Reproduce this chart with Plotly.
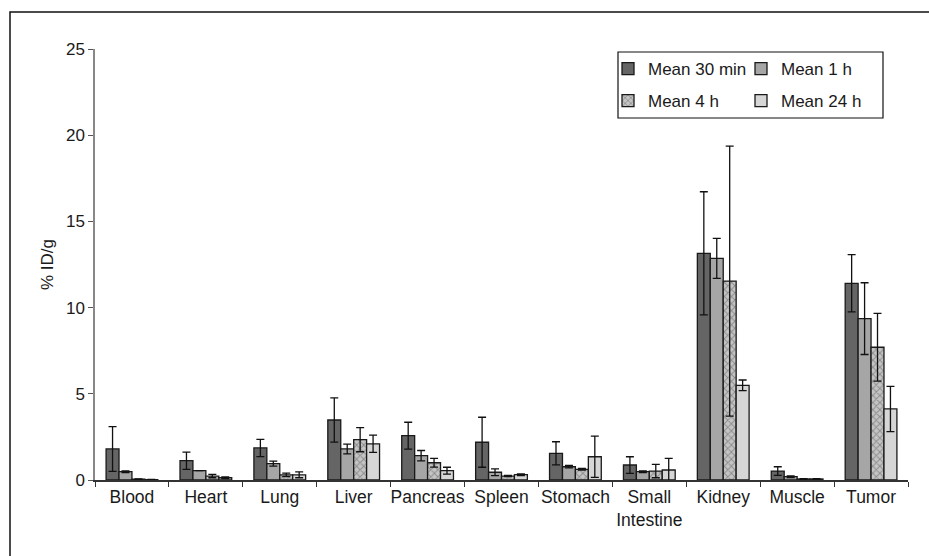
import plotly.graph_objects as go

organs = ["Blood", "Heart", "Lung", "Liver", "Pancreas", "Spleen", "Stomach",
          "Small<br>Intestine", "Kidney", "Muscle", "Tumor"]

mean_30min = [1.80, 1.12, 1.86, 3.48, 2.57, 2.19, 1.55, 0.87, 13.15, 0.52, 11.41]
sd_30min   = [1.30, 0.50, 0.50, 1.28, 0.78, 1.45, 0.67, 0.48, 3.57, 0.25, 1.66]

mean_1h = [0.48, 0.54, 0.95, 1.80, 1.41, 0.45, 0.77, 0.48, 12.86, 0.19, 9.36]
sd_1h   = [0.05, 0.00, 0.15, 0.28, 0.30, 0.20, 0.07, 0.05, 1.16, 0.05, 2.08]

mean_4h = [0.05, 0.23, 0.30, 2.34, 1.00, 0.23, 0.62, 0.52, 11.54, 0.06, 7.70]
sd_4h   = [0.02, 0.10, 0.10, 0.70, 0.25, 0.03, 0.05, 0.39, 7.83, 0.02, 1.97]

mean_24h = [0.02, 0.13, 0.30, 2.10, 0.54, 0.31, 1.35, 0.58, 5.49, 0.06, 4.12]
sd_24h   = [0.01, 0.05, 0.17, 0.50, 0.20, 0.05, 1.20, 0.68, 0.31, 0.02, 1.31]

series_names = ["Mean 30 min", "Mean 1 h", "Mean 4 h", "Mean 24 h"]

FONT = "Liberation Sans, Arial, sans-serif"

# plot area in pixels: x 95..908, y 49..480
L, R, T, B = 95, 21, 49, 76
W, H = 929, 556
pw, ph = W - L - R, H - T - B


def px_x(x):
    return (x - L) / pw


def px_y(y):
    return (H - B - y) / ph


fig = go.Figure()

styles = [
    dict(color="#656565", pattern=None, legend="legend"),
    dict(color="#a6a6a6", pattern=None, legend="legend"),
    dict(color="#c4c4c4", pattern=dict(shape="x", fgcolor="#555555", bgcolor="#c4c4c4", size=5, solidity=0.35),
         legend="legend2"),
    dict(color="#d6d6d6", pattern=None, legend="legend2"),
]

for name, vals, errs, st in zip(series_names,
                                [mean_30min, mean_1h, mean_4h, mean_24h],
                                [sd_30min, sd_1h, sd_4h, sd_24h],
                                styles):
    marker = dict(color=st["color"], line=dict(color="#1a1a1a", width=1.3))
    if st["pattern"]:
        marker["pattern"] = st["pattern"]
    fig.add_trace(go.Bar(
        name=name, x=organs, y=vals,
        marker=marker, legend=st["legend"],
        error_y=dict(type="data", array=errs, visible=True,
                     color="#111111", thickness=1.3, width=4),
    ))

leg_common = dict(
    orientation="h", xanchor="left", yanchor="top",
    borderwidth=0, bgcolor="rgba(0,0,0,0)",
    font=dict(family=FONT, size=17, color="#1a1a1a"),
    entrywidth=88, entrywidthmode="pixels",
    itemwidth=30, traceorder="normal",
)

fig.update_layout(
    width=W, height=H,
    margin=dict(l=L, r=R, t=T, b=B, autoexpand=False),
    paper_bgcolor="white", plot_bgcolor="white",
    barmode="group", bargap=0.3, bargroupgap=0.0,
    font=dict(family=FONT, size=17, color="#1a1a1a"),
    showlegend=True,
    legend=dict(x=px_x(608), y=px_y(51), **leg_common),
    legend2=dict(x=px_x(608), y=px_y(83), **leg_common),
    xaxis=dict(
        showline=True, linecolor="#333333", linewidth=1.5,
        ticks="outside", tickson="boundaries", ticklen=5, tickcolor="#333333",
        tickangle=0,
        tickfont=dict(family=FONT, size=17.5, color="#1a1a1a"),
        showgrid=False,
    ),
    yaxis=dict(
        range=[0, 25], tickvals=[0, 5, 10, 15, 20, 25],
        showline=True, linecolor="#888888", linewidth=1.5,
        ticks="outside", ticklen=5, tickcolor="#555555",
        tickfont=dict(family=FONT, size=17, color="#1a1a1a"),
        showgrid=False, zeroline=False,
        title=dict(text="% ID/g", font=dict(family=FONT, size=17, color="#1a1a1a"), standoff=8),
    ),
    shapes=[
        dict(type="rect", xref="paper", yref="paper",
             x0=px_x(10), x1=px_x(W + 20),
             y0=px_y(H + 20), y1=px_y(12),
             line=dict(color="#111111", width=1.5), fillcolor="rgba(0,0,0,0)", layer="below"),
        dict(type="rect", xref="paper", yref="paper",
             x0=px_x(618), x1=px_x(883),
             y0=px_y(118), y1=px_y(52),
             line=dict(color="#111111", width=1.2), fillcolor="white", layer="below"),
    ],
)

fig.write_html("out.html")
